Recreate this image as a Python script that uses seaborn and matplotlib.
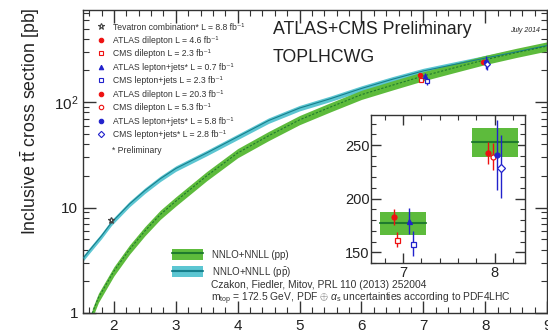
import numpy as np
import pandas as pd
import matplotlib
matplotlib.use("Agg")
import matplotlib.pyplot as plt
from matplotlib.patches import Rectangle, Patch
from matplotlib.lines import Line2D
from matplotlib.ticker import (MultipleLocator, LogLocator, FixedLocator,
                               FixedFormatter, NullFormatter)
import seaborn as sns

# NNLO+NNLL predictions (Czakon, Fiedler, Mitov), sqrt(s) in TeV, sigma in pb
pp_sqrts = [1.65, 1.75, 2.0, 2.25, 2.5, 2.75, 3.0, 3.5, 4.0, 4.5, 5.0,
            5.5, 6.0, 6.5, 7.0, 7.5, 8.0, 8.5, 9.0]
pp_xsec = [1.0, 1.4, 2.5, 4.0, 6.0, 8.6, 11.5, 20.0, 33.0, 48.0, 68.0,
           90.0, 118.0, 145.0, 177.3, 212.0, 252.9, 295.0, 340.0]
ppbar_sqrts = [1.5, 1.6, 1.8, 1.96, 2.25, 2.5, 2.75, 3.0, 3.5, 4.0, 4.5,
               5.0, 5.5, 6.0, 6.5, 7.0, 7.5, 8.0, 8.5, 9.0]
ppbar_xsec = [3.3, 3.9, 5.4, 7.2, 10.8, 14.5, 18.8, 23.5, 33.0, 47.0, 67.0,
              88.0, 108.0, 135.0, 165.0, 198.0, 228.0, 262.0, 300.0, 345.0]
pp_rel_unc = 0.10
ppbar_rel_unc = 0.06

# theory boxes shown in the zoomed panel
box_sqrts = [7.0, 8.0]
box_xsec = [177.3, 252.9]
box_up = [10.1, 13.3]
box_dn = [10.8, 14.5]

# measurements
meas_labels = [
    "Tevatron combination* L = 8.8 fb⁻¹",
    "ATLAS dilepton L = 4.6 fb⁻¹",
    "CMS dilepton L = 2.3 fb⁻¹",
    "ATLAS lepton+jets* L = 0.7 fb⁻¹",
    "CMS lepton+jets L = 2.3 fb⁻¹",
    "ATLAS dilepton L = 20.3 fb⁻¹",
    "CMS dilepton L = 5.3 fb⁻¹",
    "ATLAS lepton+jets* L = 5.8 fb⁻¹",
    "CMS lepton+jets* L = 2.8 fb⁻¹",
]
meas_sqrts = [1.96, 7.0, 7.0, 7.0, 7.0, 8.0, 8.0, 8.0, 8.0]
meas_xsec = [7.60, 182.9, 161.9, 179.0, 158.1, 242.4, 239.0, 241.0, 228.4]
meas_err_dn = [0.41, 7.1, 6.7, 12.2, 11.5, 10.5, 12.7, 32.5, 28.0]
meas_err_up = [0.41, 7.1, 6.7, 12.2, 11.5, 10.5, 12.7, 32.5, 31.0]

# drawing style per measurement
RED, BLUE, GREY = "#ee1111", "#2222cc", "#444444"
meas_color = [GREY, RED, RED, BLUE, BLUE, RED, RED, BLUE, BLUE]
meas_marker = ["*", "o", "s", "^", "s", "o", "o", "o", "D"]
meas_filled = [False, True, False, True, False, True, False, True, False]
meas_shift = [0.0, -0.10, -0.07, 0.065, 0.11, -0.07, -0.02, 0.025, 0.07]

GREEN, DKGREEN = "#5dbb3c", "#1f7a2e"
CYAN, DKCYAN = "#5cc6d2", "#167f8c"

sns.set_style("ticks")
plt.rcParams["font.family"] = ["Liberation Sans", "DejaVu Sans"]
plt.rcParams["mathtext.fontset"] = "custom"
plt.rcParams["mathtext.rm"] = "Liberation Sans"
plt.rcParams["mathtext.it"] = "Liberation Sans:italic"
plt.rcParams["mathtext.bf"] = "Liberation Sans:bold"

fig = plt.figure(figsize=(5.48, 3.32), dpi=100)
W, H = 548.0, 332.0
ax = fig.add_axes([83 / W, 19 / H, 464 / W, 303 / H])

# theory bands
pp_df = pd.DataFrame({"sqrts": pp_sqrts, "xsec": pp_xsec})
ppbar_df = pd.DataFrame({"sqrts": ppbar_sqrts, "xsec": ppbar_xsec})
ax.fill_between(ppbar_df["sqrts"], ppbar_df["xsec"] * (1 - ppbar_rel_unc),
                ppbar_df["xsec"] * (1 + ppbar_rel_unc), color=CYAN, lw=0, zorder=2)
sns.lineplot(data=ppbar_df, x="sqrts", y="xsec", ax=ax, color=DKCYAN, lw=0.8,
             zorder=3, legend=False)
ax.fill_between(pp_df["sqrts"], pp_df["xsec"] * (1 - pp_rel_unc),
                pp_df["xsec"] * (1 + pp_rel_unc), color=GREEN, lw=0, zorder=2)
sns.lineplot(data=pp_df, x="sqrts", y="xsec", ax=ax, color=DKGREEN, lw=0.8,
             ls=(0, (2, 1.5)), zorder=3, legend=False)


def draw_points(axis, msize, shift_scale):
    for i in range(len(meas_sqrts)):
        x = meas_sqrts[i] + meas_shift[i] * shift_scale
        c = meas_color[i]
        axis.errorbar([x], [meas_xsec[i]],
                      yerr=[[meas_err_dn[i]], [meas_err_up[i]]],
                      fmt="none", ecolor=c, elinewidth=1.0, capsize=0, zorder=5)
        ms = msize * (1.5 if meas_marker[i] == "*" else 1.0)
        axis.plot([x], [meas_xsec[i]], ls="none", marker=meas_marker[i],
                  ms=ms, mec=c, mfc=c if meas_filled[i] else "white",
                  mew=0.9, zorder=6)


draw_points(ax, 3.0, 0.5)

ax.set_yscale("log")
ax.set_xlim(1.5, 9.0)
ax.set_ylim(1, 750)
ax.set_xlabel("")
ax.set_ylabel(r"Inclusive $\mathrm{t\bar{t}}$ cross section [pb]", fontsize=12.8,
              color="#222222")
ax.yaxis.set_label_coords(-0.088, 0.634)
ax.xaxis.set_major_locator(MultipleLocator(1))
ax.xaxis.set_minor_locator(MultipleLocator(0.2))
ax.yaxis.set_major_locator(FixedLocator([1, 10, 100]))
ax.yaxis.set_major_formatter(FixedFormatter(["1", "10", r"$10^2$"]))
ax.yaxis.set_minor_locator(LogLocator(base=10, subs=np.arange(2, 10)))
ax.yaxis.set_minor_formatter(NullFormatter())
ax.tick_params(which="both", direction="in", top=True, right=True,
               color="#333333", labelsize=11, labelcolor="#222222")
ax.tick_params(which="major", length=9, width=1)
ax.tick_params(which="minor", length=4.5, width=0.8)
ax.tick_params(axis="x", pad=4)
for sp in ax.spines.values():
    sp.set_color("#333333")
    sp.set_linewidth(1.0)

# measurement legend
handles = [Line2D([], [], ls="none", marker=meas_marker[i],
                  ms=3.2 * (1.4 if meas_marker[i] == "*" else 1.0),
                  mec=meas_color[i],
                  mfc=meas_color[i] if meas_filled[i] else "white", mew=0.8)
           for i in range(len(meas_labels))]
leg = ax.legend(handles, meas_labels, loc="upper left",
                bbox_to_anchor=(96.5 / W, 1 - 22.5 / H), bbox_transform=fig.transFigure,
                frameon=False, fontsize=6.2, handlelength=1.0, handletextpad=0.9,
                labelspacing=0.52, borderpad=0, borderaxespad=0)
for t in leg.get_texts():
    t.set_color("#333333")
ax.add_artist(leg)
fig.text(112 / W, 1 - 150 / H, "* Preliminary", fontsize=6.2, color="#333333",
         va="center")

# band legend
band_handles = [(Patch(color=GREEN, lw=0), Line2D([], [], color=DKGREEN, lw=1.5)),
                (Patch(color=CYAN, lw=0), Line2D([], [], color=DKCYAN, lw=1.5))]
band_labels = ["NNLO+NNLL (pp)", r"NNLO+NNLL (p$\bar{\mathrm{p}}$)"]
leg2 = ax.legend(band_handles, band_labels, loc="upper left",
                 bbox_to_anchor=(172 / W, 1 - 249 / H), bbox_transform=fig.transFigure,
                 frameon=False, fontsize=7, handlelength=3.2, handleheight=1.3,
                 handletextpad=0.9, labelspacing=0.55, borderpad=0, borderaxespad=0)
for t in leg2.get_texts():
    t.set_color("#333333")
fig.text(211 / W, 1 - 285 / H, "Czakon, Fiedler, Mitov, PRL 110 (2013) 252004",
         fontsize=7.4, color="#333333", va="center")
fig.text(211 / W, 1 - 298.5 / H,
         r"m$_{\mathrm{top}}$ = 172.5 GeV, PDF $\oplus$ $\alpha_{\mathrm{s}}$ uncertainties according to PDF4LHC",
         fontsize=7.4, color="#333333", va="center")

fig.text(273 / W, 1 - 30 / H, "ATLAS+CMS Preliminary", fontsize=12.8,
         color="#222222", va="center")
fig.text(273 / W, 1 - 57 / H, "TOPLHCWG", fontsize=12.8, color="#222222",
         va="center")
fig.text(540 / W, 1 - 30 / H, "July 2014", fontsize=5, style="italic",
         color="#222222", va="center", ha="right")

# zoomed panel around 7 and 8 TeV
axin = fig.add_axes([371 / W, 69 / H, 154 / W, 148 / H])
for s, c, up, dn in zip(box_sqrts, box_xsec, box_up, box_dn):
    axin.add_patch(Rectangle((s - 0.25, c - dn), 0.5, up + dn, color=GREEN,
                             lw=0, zorder=2))
for s, c in zip(box_sqrts, box_xsec):
    axin.plot([s - 0.25, s + 0.25], [c, c], color=DKGREEN, lw=1.5, zorder=3)
draw_points(axin, 3.6, 1.0)
axin.set_xlim(6.65, 8.33)
axin.set_ylim(140, 278)
axin.xaxis.set_major_locator(FixedLocator([7, 8]))
axin.xaxis.set_minor_locator(MultipleLocator(0.2))
axin.yaxis.set_major_locator(MultipleLocator(50))
axin.yaxis.set_minor_locator(MultipleLocator(10))
axin.tick_params(which="both", direction="in", top=True, right=True,
                 color="#333333", labelsize=10.5, labelcolor="#222222")
axin.tick_params(which="major", length=7, width=1)
axin.tick_params(which="minor", length=3.5, width=0.8)
axin.tick_params(axis="y", pad=1)
axin.tick_params(axis="x", pad=2)
for sp in axin.spines.values():
    sp.set_color("#333333")
    sp.set_linewidth(1.0)

fig.savefig("out.png", dpi=100)
